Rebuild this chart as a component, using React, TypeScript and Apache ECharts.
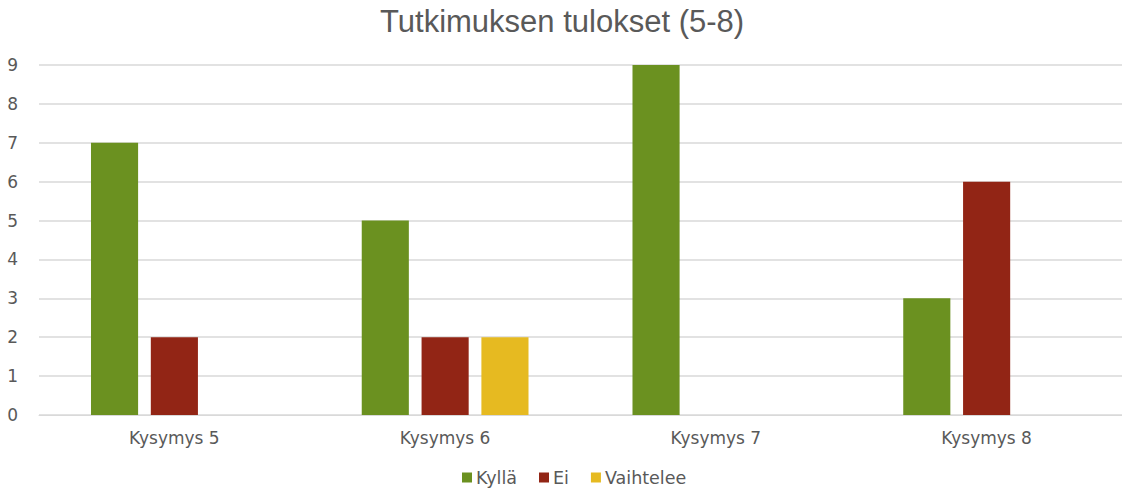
import React, { useEffect, useRef } from "react";
import * as echarts from "echarts";

const categories = ["Kysymys 5", "Kysymys 6", "Kysymys 7", "Kysymys 8"];
const kylla = [7, 5, 9, 3];
const ei = [2, 2, 0, 6];
const vaihtelee = [0, 2, 0, 0];
const seriesNames = ["Kyllä", "Ei", "Vaihtelee"];
const colors = ["#6b9120", "#922515", "#e6ba21"];

export default function App() {
  const ref = useRef<HTMLDivElement>(null);
  useEffect(() => {
    const chart = echarts.init(ref.current!, undefined, { renderer: "svg" });
    const data = [kylla, ei, vaihtelee];
    chart.setOption({
      animation: false,
      title: {
        text: "Tutkimuksen tulokset (5-8)",
        left: 380,
        top: 6,
        padding: 0,
        textStyle: { fontFamily: "Liberation Sans", fontSize: 31, fontWeight: "normal", color: "#595959" },
      },
      legend: {
        top: 468,
        left: 462,
        padding: 0,
        itemWidth: 10,
        itemHeight: 10,
        itemGap: 22,
        icon: "rect",
        textStyle: { fontFamily: "DejaVu Sans", fontSize: 17.5, lineHeight: 19, color: "#595959", padding: [0, 0, 0, -1] },
        data: seriesNames,
      },
      grid: { left: 39, right: 0, top: 65, bottom: 73 },
      xAxis: {
        type: "category",
        data: categories,
        axisLine: { lineStyle: { color: "#d9d9d9" } },
        axisTick: { show: false },
        axisLabel: { fontFamily: "DejaVu Sans", fontSize: 17, color: "#595959", margin: 14 },
      },
      yAxis: {
        type: "value",
        min: 0,
        max: 9,
        interval: 1,
        axisLine: { show: false },
        axisTick: { show: false },
        splitLine: { lineStyle: { color: "#d9d9d9", width: 1.5 } },
        axisLabel: { fontFamily: "DejaVu Sans", fontSize: 17, color: "#595959", margin: 21 },
      },
      series: seriesNames.map((name, i) => ({
        name,
        type: "bar",
        data: data[i].map((v) => (v === 0 ? null : v)),
        barWidth: "17.4%",
        barGap: "27%",
        itemStyle: { color: colors[i] },
      })),
    });
    return () => chart.dispose();
  }, []);
  return <div ref={ref} style={{ width: 1122, height: 488, position: "absolute", left: 0, top: 0 }} />;
}
